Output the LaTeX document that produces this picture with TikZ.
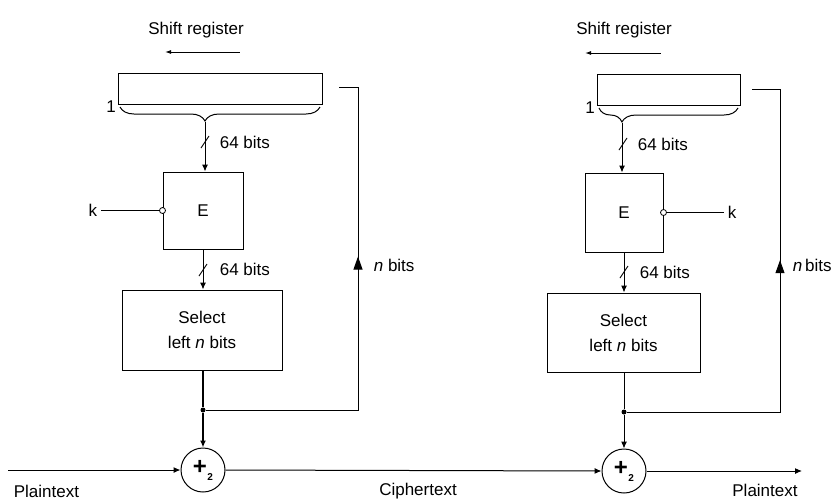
\documentclass[tikz,border=0pt]{standalone}
\usepackage{fontspec}
\setmainfont{Liberation Sans}
\usetikzlibrary{arrows.meta,decorations.pathreplacing,calc}
\newcommand{\modtwo}{+\kern0.5pt\raisebox{-6pt}{\fontsize{10}{10}\selectfont 2}}
\begin{document}
\begin{tikzpicture}[x=1pt,y=-1pt,line width=1pt,
  every node/.style={font=\fontsize{17}{25}\selectfont},
  box/.style={draw,line width=1pt,inner sep=0pt},
  xorc/.style={draw,circle,minimum size=44pt,inner sep=0pt,font=\fontsize{24}{24}\selectfont\bfseries},
  jdot/.style={circle,fill,inner sep=0pt,minimum size=5pt},
  kdot/.style={circle,draw,fill=white,inner sep=0pt,minimum size=6pt,line width=0.8pt},
  arr/.style={-{Latex[length=7pt,width=6pt]}},
  bigarr/.style={-{Triangle[length=13pt,width=9pt]}},
  shiftarr/.style={{Latex[length=6pt,width=4pt]}-},
  thickline/.style={line width=1.8pt},
  brc/.style={decorate,decoration={brace,mirror,amplitude=14pt}},
  slash/.style={line width=0.9pt}
]
\useasboundingbox (0,0) rectangle (840,499);

% ---------------- encryption side ----------------
\node at (196,30) {Shift register};
\coordinate (sa1) at (165,52);
\coordinate (sb1) at (240,52);
\draw[shiftarr] (sa1) -- (sb1);

\node[box,minimum width=204pt,minimum height=31pt] (sr1) at (220,88.5) {};
\node at (111,107) {1};
\coordinate (bl1) at (120,107);
\coordinate (br1) at (320,107);
\draw[brc,decoration={aspect=0.425}] (bl1) -- (br1);
\coordinate (bt1) at (205,122);

\node[box,minimum width=80pt,minimum height=77pt] (e1) at (203,210.5) {E};
\draw[arr] (bt1) -- (e1.north -| bt1);
\draw[slash] (201,148) -- (209,136);
\node[anchor=west] at (216,142) {64 bits};

\node[anchor=east] (k1) at (101,210.5) {k};
\node[kdot] (kc1) at (e1.west) {};
\draw (k1.east) -- (kc1.west);

\node[box,minimum width=160pt,minimum height=80pt,align=center] (s1) at (202,330) {Select\\left \textit{n} bits};
\draw[arr] (e1.south) -- (s1.north -| e1.south);
\draw[slash] (199,276) -- (207,264);
\node[anchor=west] at (216,269) {64 bits};

\node[jdot] (j1) at (203,410) {};
\node[xorc] (x1) at (203,470) {\modtwo};
\draw[thickline] (s1.south -| j1) -- (j1);
\draw[thickline,arr] (j1) -- (x1.north);

\coordinate (f1a) at (358,410);
\coordinate (f1b) at (358,87);
\coordinate (f1c) at (339,87);
\draw (j1) -- (f1a) -- (f1b) -- (f1c);
\draw[bigarr] (f1a) -- ($(f1a)!0.475!(f1b)$);
\node[anchor=west] at (370,265) {\textit{n} bits};

\coordinate (pin) at (8,470);
\draw[arr] (pin) -- (x1.west);
\node[anchor=west] at (10,491) {Plaintext};

% ---------------- decryption side ----------------
\node at (624,30) {Shift register};
\coordinate (sa2) at (585,53);
\coordinate (sb2) at (661,53);
\draw[shiftarr] (sa2) -- (sb2);

\node[box,minimum width=143pt,minimum height=31pt] (sr2) at (668.5,89.5) {};
\node at (590,108) {1};
\coordinate (bl2) at (599,108);
\coordinate (br2) at (738,108);
\draw[brc,decoration={aspect=0.165}] (bl2) -- (br2);
\coordinate (bt2) at (622,123);

\node[box,minimum width=78pt,minimum height=79pt] (e2) at (624,212.5) {E};
\draw[arr] (bt2) -- (e2.north -| bt2);
\draw[slash] (619,150) -- (627,138);
\node[anchor=west] at (634,144) {64 bits};

\node[anchor=west] (k2) at (724,212.5) {k};
\node[kdot] (kc2) at (e2.east) {};
\draw (kc2.east) -- (k2.west);

\node[box,minimum width=153pt,minimum height=79pt,align=center] (s2) at (623.5,332.5) {Select\\left \textit{n} bits};
\draw[arr] (e2.south) -- (s2.north -| e2.south);
\draw[slash] (620,278) -- (628,266);
\node[anchor=west] at (636,272) {64 bits};

\node[jdot] (j2) at (624,412) {};
\node[xorc] (x2) at (624,471) {\modtwo};
\draw (s2.south -| j2) -- (j2);
\draw[arr] (j2) -- (x2.north);

\coordinate (f2a) at (780,412);
\coordinate (f2b) at (780,89);
\coordinate (f2c) at (752,89);
\draw (j2) -- (f2a) -- (f2b) -- (f2c);
\draw[bigarr] (f2a) -- ($(f2a)!0.47!(f2b)$);
\node[anchor=west] at (789,265) {\textit{n}\,bits};

% ---------------- shared channel ----------------
\draw[arr] (x1.east) -- (x2.west);
\node at (418,491) {Ciphertext};
\coordinate (pout) at (802,471);
\draw[arr] (x2.east) -- (pout);
\node at (765,490) {Plaintext};
\end{tikzpicture}
\end{document}
